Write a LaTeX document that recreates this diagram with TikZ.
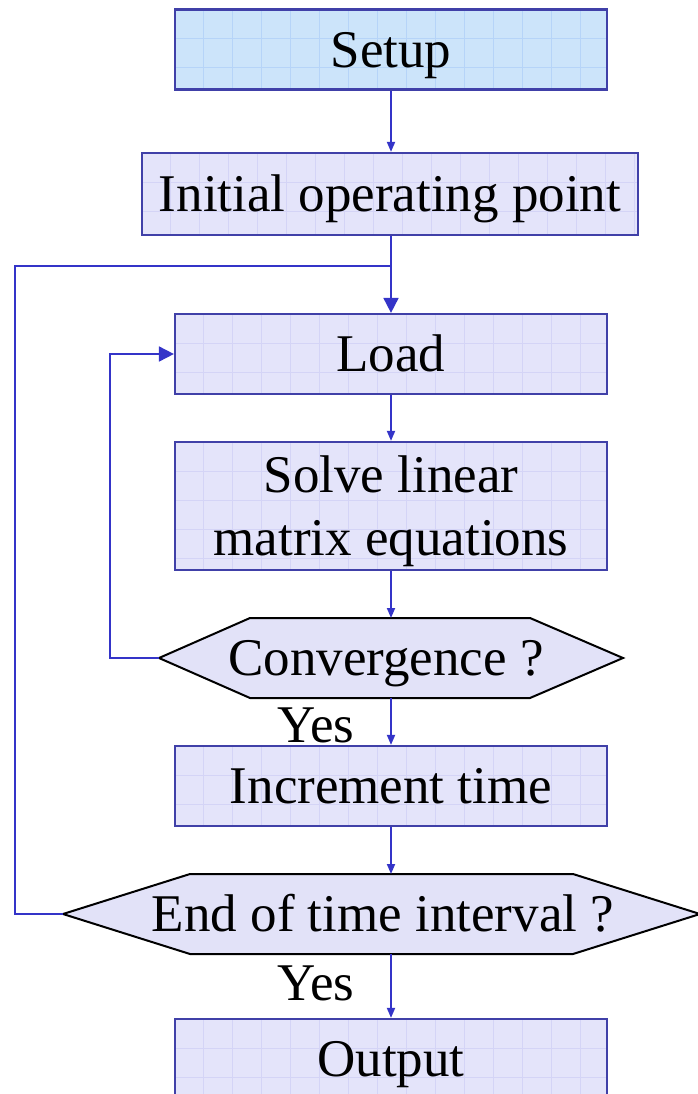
\documentclass[tikz,border=0pt]{standalone}
\usepackage{fontspec}
\setmainfont{Liberation Serif}
\usetikzlibrary{arrows.meta}
\definecolor{connc}{RGB}{52,52,200}
\definecolor{boxline}{RGB}{64,64,168}
\definecolor{setupfill}{RGB}{204,228,250}
\definecolor{setupgrid}{RGB}{182,212,248}
\definecolor{boxfill}{RGB}{228,228,250}
\definecolor{boxgrid}{RGB}{212,212,246}
\definecolor{hexfill}{RGB}{226,226,248}
\begin{document}
\begin{tikzpicture}[x=1pt,y=-1pt,
  font=\fontsize{53pt}{63pt}\selectfont,
  gridded/.style={path picture={
    \foreach \i in {1,...,22}{\draw[#1,line width=0.8pt] ([xshift=\i*29pt-1pt]path picture bounding box.north west) -- ([xshift=\i*29pt-1pt]path picture bounding box.south west);}
    \foreach \j in {1,...,5}{\draw[#1,line width=0.8pt] ([yshift=-\j*29pt]path picture bounding box.north west) -- ([yshift=-\j*29pt]path picture bounding box.north east);}
  }},
  box/.style={draw=boxline, line width=2.2pt, fill=boxfill, gridded=boxgrid,
    minimum width=432pt, minimum height=80pt, inner sep=0pt,
    text height=35.5pt, text depth=0pt},
  setupbox/.style={box, fill=setupfill, gridded=setupgrid},
  hexshape/.style={draw=black, line width=2pt, fill=hexfill, line join=miter},
  hextext/.style={inner sep=0pt, text height=35.5pt, text depth=0pt},
  label/.style={inner sep=0pt, anchor=base},
  conn/.style={draw=connc, line width=1.8pt},
  smallarrow/.style={conn, -{Triangle[width=8pt,length=10pt]}},
  bigarrow/.style={conn, -{Triangle[width=15pt,length=15pt]}}
]
\fill[white] (0,0) rectangle (697,1094);
\useasboundingbox (0,0) rectangle (697,1094);

% boxes
\node[setupbox] (setup) at (391,49.5) {Setup};
\node[box, minimum width=496pt, minimum height=82pt] (init) at (390,194) {Initial operating point};
\node[box] (load) at (391,354) {Load};
\node[box, minimum height=128pt, align=center, text height=98.5pt] (solve) at (391,506) {Solve linear\\matrix equations};
\node[box] (inc) at (391,786) {Increment time};
\node[box] (out) at (391,1059) {Output};

% convergence hexagon
\coordinate (cW) at (159,658);
\coordinate (cE) at (623,658);
\coordinate (cN) at (391,618);
\coordinate (cS) at (391,698);
\draw[hexshape] (cW) -- (250,618) -- (530,618) -- (cE) -- (530,698) -- (250,698) -- cycle;
\node[hextext] (conv) at (386,658) {Convergence ?};

% end hexagon
\coordinate (eW) at (63,914);
\coordinate (eE) at (700,914);
\coordinate (eN) at (391,874);
\coordinate (eS) at (391,954);
\draw[hexshape] (eW) -- (190,874) -- (573,874) -- (eE) -- (573,954) -- (190,954) -- cycle;
\node[hextext] (endq) at (383,914) {End of time interval ?};

% labels
\node[label] (yes1) at (316,742) {Yes};
\node[label] (yes2) at (316,1000) {Yes};

% connectors
\coordinate (merge) at (391,266);
\coordinate (outerleft) at (15,914);
\coordinate (innerleft) at (110,658);
\draw[smallarrow] (setup.south) -- (setup.south |- init.north);
\draw[bigarrow] (load.north |- init.south) -- (load.north);
\draw[conn] (eW) -- (outerleft) |- (merge);
\draw[smallarrow] (load.south) -- (solve.north);
\draw[smallarrow] (solve.south) -- (cN);
\draw[bigarrow] (cW) -- (innerleft) |- (load.west);
\draw[smallarrow] (cS) -- (inc.north);
\draw[smallarrow] (inc.south) -- (eN);
\draw[smallarrow] (eS) -- (out.north);
\end{tikzpicture}
\end{document}
